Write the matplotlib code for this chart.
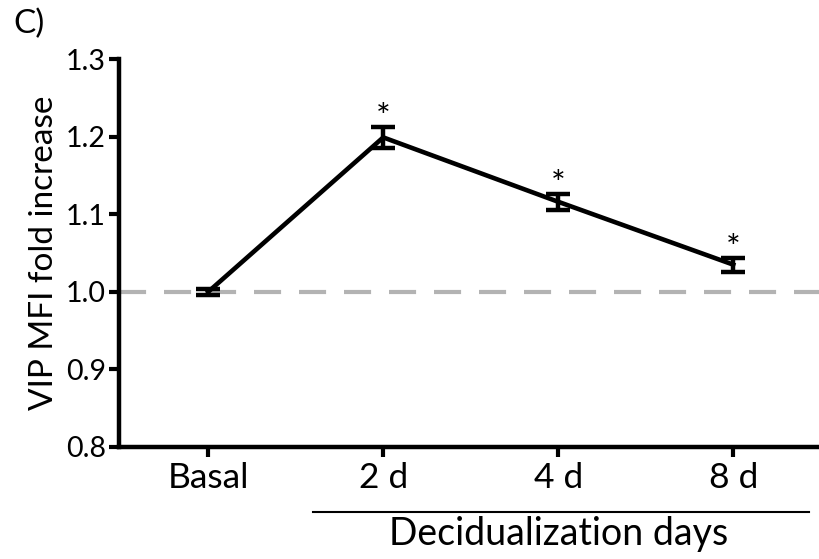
import numpy as np
import matplotlib
matplotlib.use('Agg')
import matplotlib.pyplot as plt
from matplotlib.lines import Line2D

# Данные
groups = ['Basal', '2 d', '4 d', '8 d']
fold = [1.0, 1.199, 1.116, 1.035]
sem = [0.004, 0.014, 0.010, 0.009]
signif = ['', '*', '*', '*']

plt.rcParams['font.family'] = ['Lato', 'DejaVu Sans']

fig = plt.figure(figsize=(8.19, 5.59), dpi=100)
ax = fig.add_axes([0.1453, 0.2004, 0.8547, 0.694])

x = np.arange(len(groups))

# Пунктирная линия базового уровня
ax.axhline(1.0, color='#b3b3b3', lw=3, dashes=(6.5, 4.3), zorder=1)

ax.errorbar(x, fold, yerr=sem, color='black', lw=3.3, elinewidth=3.2,
            capsize=8.5, capthick=3.2, zorder=3)

# Звёздочки значимости
for xi, yi, ei, s in zip(x, fold, sem, signif):
    if s:
        ax.text(xi, yi + ei - 0.009, s, ha='center', va='bottom', fontsize=25)

ax.set_xlim(-0.51, 3.49)
ax.set_ylim(0.8, 1.3)
ax.set_xticks(x)
ax.set_xticklabels(groups, fontsize=25.5)
ax.set_yticks([0.8, 0.9, 1.0, 1.1, 1.2, 1.3])
ax.set_yticklabels(['0.8', '0.9', '1.0', '1.1', '1.2', '1.3'], fontsize=20.5)
ax.set_ylabel('VIP MFI fold increase', fontsize=24, labelpad=5)

for side in ['top', 'right']:
    ax.spines[side].set_visible(False)
for side in ['left', 'bottom']:
    ax.spines[side].set_linewidth(3.2)
ax.tick_params(width=3, length=7.5, pad=2)
ax.tick_params(axis='x', pad=3)

# Линия под днями децидуализации
ax.add_line(Line2D([0.6, 3.43], [-0.168, -0.168], transform=ax.get_xaxis_transform(),
                   color='black', lw=1.5, clip_on=False))
ax.text(2.0, -0.178, 'Decidualization days', transform=ax.get_xaxis_transform(),
        ha='center', va='top', fontsize=27)

fig.text(0.016, 0.985, 'C)', fontsize=24, ha='left', va='top')

fig.savefig('out.png', dpi=100)
